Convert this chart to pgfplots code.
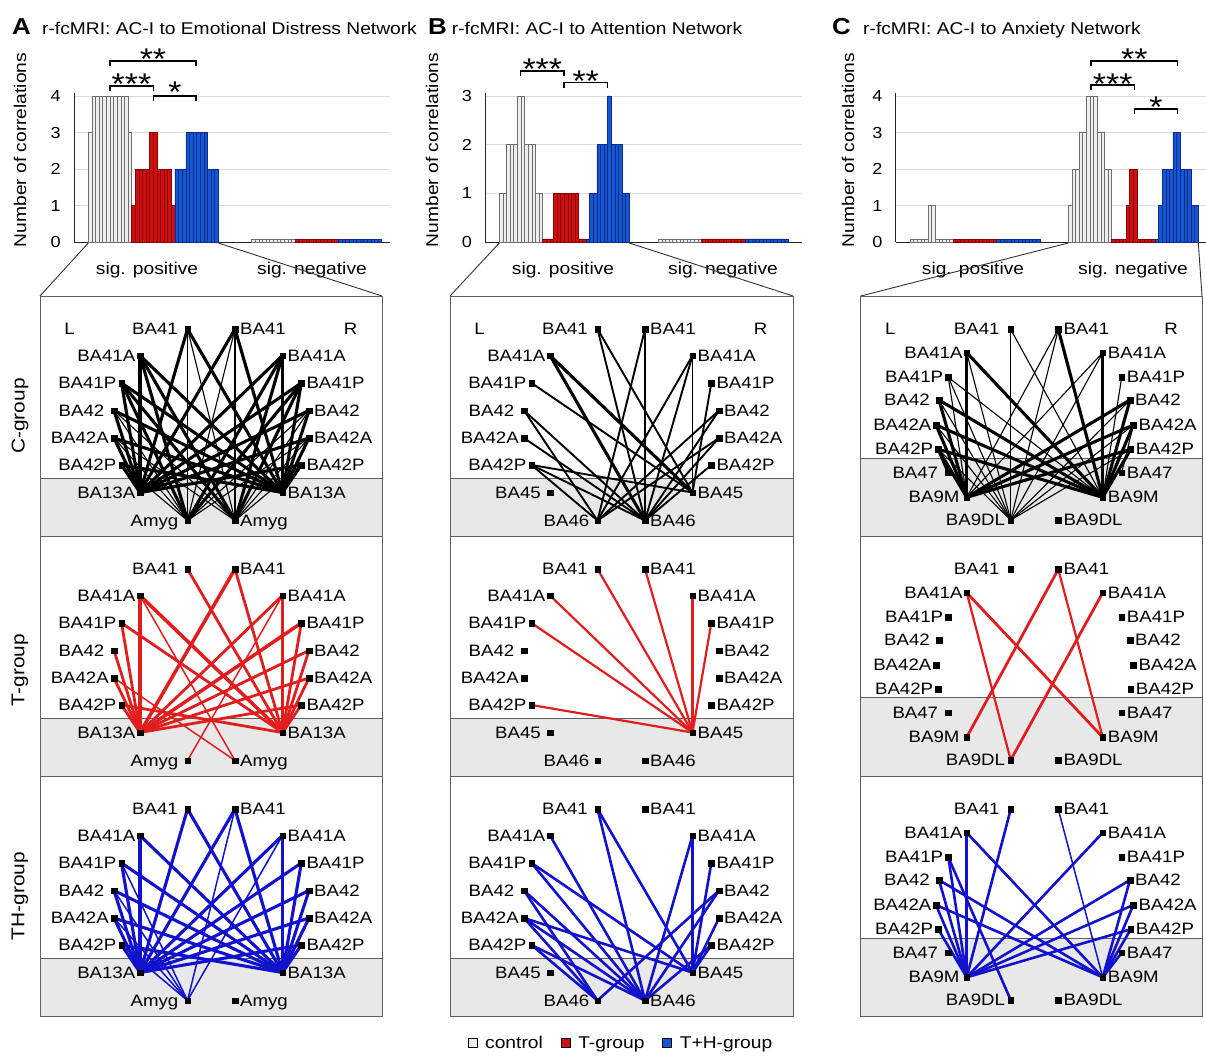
\documentclass[border=0pt]{standalone}
\usepackage{fontspec}
\setmainfont{Liberation Sans}[FakeStretch=1.13]
\usepackage{pgfplots}
\pgfplotsset{compat=1.18}

\definecolor{ctrlfill}{RGB}{238,238,238}
\definecolor{ctrledge}{RGB}{110,110,110}
\definecolor{barred}{RGB}{204,16,16}
\definecolor{barredE}{RGB}{140,0,0}
\definecolor{barblue}{RGB}{22,86,210}
\definecolor{barblueE}{RGB}{10,45,140}
\definecolor{netred}{RGB}{225,30,30}
\definecolor{netblue}{RGB}{18,18,205}
\definecolor{band}{RGB}{232,232,232}
\definecolor{frame}{RGB}{95,95,95}
\definecolor{gridc}{RGB}{220,220,220}

\newcommand\fs[1]{\fontsize{#1pt}{#1pt}\selectfont}
\newcommand\nfont{\fs{16.5}}
\newcommand\zb{0.065}

\tikzset{
 kT/.style={black, line width=3.1pt, line cap=round, mark=none},
 kM/.style={black, line width=1.9pt, line cap=round, mark=none},
 kt/.style={black, line width=1.1pt, line cap=round, mark=none},
 rX/.style={netred, line width=3.5pt, line cap=round, mark=none},
 rT/.style={netred, line width=2.8pt, line cap=round, mark=none},
 rM/.style={netred, line width=2.2pt, line cap=round, mark=none},
 rt/.style={netred, line width=1.5pt, line cap=round, mark=none},
 bT/.style={netblue, line width=3.1pt, line cap=round, mark=none},
 bM/.style={netblue, line width=2.6pt, line cap=round, mark=none},
 bt/.style={netblue, line width=1.5pt, line cap=round, mark=none},
 barC/.style={fill=ctrlfill, draw=ctrledge, line width=0.5pt},
 barR/.style={fill=barred, draw=barredE, line width=0.5pt},
 barB/.style={fill=barblue, draw=barblueE, line width=0.5pt},
 lbl/.style={inner sep=0pt, font=\nfont, yshift=-5.6pt},
}

\pgfplotsset{
 barax/.style={scale only axis, anchor=south west, ymin=0, xtick=\empty,
   ybar, bar width=1, bar shift=0pt,
   axis x line*=bottom, axis y line*=left,
   axis line style={-, draw=black!85, line width=1pt},
   ymajorgrids, grid style={draw=gridc, line width=0.8pt},
   major tick length=0pt,
   yticklabel style={font=\fs{16}, inner sep=0pt, xshift=-13pt},
   /pgf/number format/assume math mode=true, clip=false},
 net/.style={scale only axis, anchor=north west, height=240pt, xmin=0, ymin=0, ymax=240,
   y dir=reverse, xtick=\empty, ytick=\empty,
   axis line style={draw=frame, line width=0.9pt}, clip=false, axis on top},
}

% bar group: style, x offset, data
\newcommand\G[3]{\addplot[#1] table[row sep=\\, x expr=\coordindex+#2, y expr={max(\thisrow{h},\zb)}] {h\\#3};}

% node layouts (x from panel left, y from panel top, px)
\newcommand\defn[3]{\expandafter\def\csname #1\endcsname{#2,#3}}
\defn{abL1}{147.5}{33}    \defn{abR1}{195}{33}
\defn{abL2}{100}{59.5}    \defn{abR2}{242.5}{59.5}
\defn{abL3}{81.5}{87}     \defn{abR3}{261.3}{87}
\defn{abL4}{74}{114.5}    \defn{abR4}{269}{114.5}
\defn{abL5}{74}{142}      \defn{abR5}{269}{142}
\defn{abL6}{81.5}{169}    \defn{abR6}{261.3}{169}
\defn{abL7}{100}{196.5}   \defn{abR7}{242.5}{196.5}
\defn{abL8}{147.5}{224.5} \defn{abR8}{195}{224.5}
\defn{cL1}{150}{33.3}   \defn{cR1}{197.6}{33.3}
\defn{cL2}{106}{56.7}   \defn{cR2}{242}{56.7}
\defn{cL3}{87.6}{81.3}  \defn{cR3}{261}{81.3}
\defn{cL4}{78.3}{104}   \defn{cR4}{269.3}{104}
\defn{cL5}{75.3}{129}   \defn{cR5}{272.6}{129}
\defn{cL6}{77.6}{153.3} \defn{cR6}{270}{153.3}
\defn{cL7}{87.6}{176.7} \defn{cR7}{261}{176.7}
\defn{cL8}{106}{201.3}  \defn{cR8}{242}{201.3}
\defn{cL9}{150}{224}    \defn{cR9}{197.6}{224}

\newcommand\E[3]{\edef\tmp{\noexpand\addplot[#1] coordinates {(\csname\lay #2\endcsname) (\csname\lay #3\endcsname)};}\tmp}
\newcommand\LL[3]{\edef\tmp{\noexpand\node[lbl,anchor=base east,xshift=-#3pt] at (axis cs:\csname\lay #1\endcsname) {#2};}\tmp}
\newcommand\RL[2]{\edef\tmp{\noexpand\node[lbl,anchor=base west,xshift=5pt] at (axis cs:\csname\lay #1\endcsname) {#2};}\tmp}
\newcommand\band[2]{\addplot[fill=band, draw=none] coordinates {(0,#2)(#1,#2)(#1,240)(0,240)};
 \addplot[draw=frame, line width=0.9pt] coordinates {(0,#2)(#1,#2)};}
\newcommand\MarksAB{\addplot[only marks, mark=square*, mark size=2.7pt, black] coordinates {(147.5,33)(195,33)(100,59.5)(242.5,59.5)(81.5,87)(261.3,87)(74,114.5)(269,114.5)(74,142)(269,142)(81.5,169)(261.3,169)(100,196.5)(242.5,196.5)(147.5,224.5)(195,224.5)};}
\newcommand\MarksC{\addplot[only marks, mark=square*, mark size=2.7pt, black] coordinates {(150,33.3)(197.6,33.3)(106,56.7)(242,56.7)(87.6,81.3)(261,81.3)(78.3,104)(269.3,104)(75.3,129)(272.6,129)(77.6,153.3)(270,153.3)(87.6,176.7)(261,176.7)(106,201.3)(242,201.3)(150,224)(197.6,224)};}
\newcommand\LabelsAB[4]{\def\lay{ab}%
 \LL{L1}{BA41}{9.5}\RL{R1}{BA41}\LL{L2}{BA41A}{4.5}\RL{R2}{BA41A}
 \LL{L3}{BA41P}{5}\RL{R3}{BA41P}\LL{L4}{BA42}{9.5}\RL{R4}{BA42}
 \LL{L5}{BA42A}{5}\RL{R5}{BA42A}\LL{L6}{BA42P}{5}\RL{R6}{BA42P}
 \LL{L7}{#1}{#3}\RL{R7}{#1}\LL{L8}{#2}{#4}\RL{R8}{#2}}
\newcommand\LabelsC{\def\lay{c}%
 \LL{L1}{BA41}{11}\RL{R1}{BA41}\LL{L2}{BA41A}{4}\RL{R2}{BA41A}
 \LL{L3}{BA41P}{5}\RL{R3}{BA41P}\LL{L4}{BA42}{9}\RL{R4}{BA42}
 \LL{L5}{BA42A}{4.5}\RL{R5}{BA42A}\LL{L6}{BA42P}{5}\RL{R6}{BA42P}
 \LL{L7}{BA47}{10}\RL{R7}{BA47}\LL{L8}{BA9M}{7}\RL{R8}{BA9M}
 \LL{L9}{BA9DL}{5.5}\RL{R9}{BA9DL}}
\newcommand\LRlab{\node[lbl,anchor=base] at (axis cs:29.5,33) {L};\node[lbl,anchor=base] at (axis cs:310.5,33) {R};}
\newcommand\brk[4]{\draw[line width=1.4pt] (#1pt,-#4pt) -- (#1pt,-#3pt) -- (#2pt,-#3pt) -- (#2pt,-#4pt);}
\newcommand\st[3]{\node[anchor=base, inner sep=0pt, font=\fs{30}] at (#1pt,-#2pt) {#3};}

\begin{document}
\begin{tikzpicture}
\useasboundingbox (0pt,0pt) rectangle (1206pt,-1055pt);

% ---------- titles ----------
\node[anchor=base west, inner sep=0pt, font=\bfseries\fs{23}] at (12pt,-34pt) {A};
\node[anchor=base west, inner sep=0pt, font=\fs{17}] at (42pt,-34pt) {r-fcMRI: AC-I to Emotional Distress Network};
\node[anchor=base west, inner sep=0pt, font=\bfseries\fs{23}] at (428pt,-34pt) {B};
\node[anchor=base west, inner sep=0pt, font=\fs{17}] at (451.7pt,-34pt) {r-fcMRI: AC-I to Attention Network};
\node[anchor=base west, inner sep=0pt, font=\bfseries\fs{23}] at (832pt,-34pt) {C};
\node[anchor=base west, inner sep=0pt, font=\fs{17}] at (863pt,-34pt) {r-fcMRI: AC-I to Anxiety Network};

% ---------- y labels ----------
\node[rotate=90, inner sep=0pt, font=\fs{17}] at (20pt,-150pt) {Number of correlations};
\node[rotate=90, inner sep=0pt, font=\fs{17}] at (432pt,-150pt) {Number of correlations};
\node[rotate=90, inner sep=0pt, font=\fs{17}] at (848pt,-150pt) {Number of correlations};

% ---------- bar chart A ----------
\begin{axis}[barax, at={(74pt,-242pt)}, width=316.1pt, height=148.9pt, xmin=-3.96, xmax=83.6, ymax=4.08, ytick={0,1,2,3,4}]
\G{barC}{0.5}{3\\4\\4\\4\\4\\4\\4\\4\\4\\4\\4\\3\\}
\G{barR}{12.5}{1\\2\\2\\2\\2\\3\\3\\2\\2\\2\\2\\1\\}
\G{barB}{24.5}{2\\2\\2\\3\\3\\3\\3\\3\\3\\2\\2\\2\\}
\G{barC}{45.76}{0\\0\\0\\0\\0\\0\\0\\0\\0\\0\\0\\0\\}
\G{barR}{57.76}{0\\0\\0\\0\\0\\0\\0\\0\\0\\0\\0\\0\\}
\G{barB}{69.76}{0\\0\\0\\0\\0\\0\\0\\0\\0\\0\\0\\0\\}
\end{axis}

% ---------- bar chart B ----------
\begin{axis}[barax, at={(485pt,-242pt)}, width=317pt, height=149pt, xmin=-3.96, xmax=83.85, ymax=3.06, ytick={0,1,2,3}]
\G{barC}{0.5}{1\\1\\2\\2\\2\\3\\3\\2\\2\\2\\1\\1\\}
\G{barR}{12.5}{0\\0\\0\\1\\1\\1\\1\\1\\1\\1\\0\\0\\}
\G{barB}{24.5}{0\\1\\1\\2\\2\\2\\3\\2\\2\\2\\1\\1\\}
\G{barC}{44.5}{0\\0\\0\\0\\0\\0\\0\\0\\0\\0\\0\\0\\}
\G{barR}{56.5}{0\\0\\0\\0\\0\\0\\0\\0\\0\\0\\0\\0\\}
\G{barB}{68.5}{0\\0\\0\\0\\0\\0\\0\\0\\0\\0\\0\\0\\}
\end{axis}

% ---------- bar chart C ----------
\begin{axis}[barax, at={(895.7pt,-242pt)}, width=310.3pt, height=148.9pt, xmin=-3.96, xmax=82.0, ymax=4.08, ytick={0,1,2,3,4}]
\G{barC}{0.5}{0\\0\\0\\0\\0\\1\\1\\0\\0\\0\\0\\0\\}
\G{barR}{12.5}{0\\0\\0\\0\\0\\0\\0\\0\\0\\0\\0\\0\\}
\G{barB}{24.5}{0\\0\\0\\0\\0\\0\\0\\0\\0\\0\\0\\0\\}
\G{barC}{44.35}{1\\2\\2\\3\\3\\4\\4\\4\\3\\3\\2\\2\\}
\G{barR}{56.35}{0\\0\\0\\0\\1\\2\\2\\0\\0\\0\\0\\0\\}
\G{barB}{68.35}{0\\1\\2\\2\\2\\3\\3\\2\\2\\2\\1\\1\\}
\end{axis}

% ---------- category labels ----------
\foreach \x/\t in {147/sig. positive, 312/sig. negative, 563/sig. positive, 723/sig. negative, 973/sig. positive, 1133/sig. negative}
  \node[anchor=base, inner sep=0pt, font=\fs{17}] at (\x pt,-274pt) {\t};

% ---------- significance brackets ----------
\brk{110}{196}{61}{66} \brk{110}{153.5}{86}{91} \brk{153.5}{196}{96}{101}
\st{153}{69.5}{**} \st{131.5}{94.5}{***} \st{175}{102.5}{*}
\brk{520.7}{564}{71}{76} \brk{564}{607.3}{82.3}{88}
\st{542.3}{79.2}{***} \st{585.7}{91.5}{**}
\brk{1091}{1177.7}{61}{66} \brk{1091}{1134.3}{85}{90} \brk{1134.3}{1177.7}{109}{114}
\st{1134.3}{69.5}{**} \st{1112.7}{94.2}{***} \st{1156}{117.5}{*}

% ---------- funnel lines ----------
\draw[line width=0.9pt, black!80] (88.3pt,-243pt) -- (40pt,-296pt);
\draw[line width=0.9pt, black!80] (218.3pt,-243pt) -- (382pt,-296pt);
\draw[line width=0.9pt, black!80] (499.3pt,-243pt) -- (450pt,-296pt);
\draw[line width=0.9pt, black!80] (629.3pt,-243pt) -- (793pt,-296pt);
\draw[line width=0.9pt, black!80] (1068.3pt,-243pt) -- (860.7pt,-296pt);
\draw[line width=0.9pt, black!80] (1198.3pt,-243pt) -- (1202pt,-296pt);

% ---------- group labels ----------
\node[rotate=90, inner sep=0pt, font=\fs{18.5}] at (20pt,-416pt) {C-group};
\node[rotate=90, inner sep=0pt, font=\fs{18.5}] at (20pt,-670pt) {T-group};
\node[rotate=90, inner sep=0pt, font=\fs{18.5}] at (20pt,-896pt) {TH-group};

% ================= column A =================
\begin{axis}[net, at={(40pt,-296pt)}, width=342pt, xmax=342]
\band{342}{182}
\def\lay{ab}
\E{kT}{L1}{L7}\E{kT}{L1}{R7}\E{kT}{R1}{L7}\E{kT}{R1}{R7}
\E{kT}{L2}{L7}\E{kT}{L2}{R7}\E{kT}{R2}{L7}\E{kT}{R2}{R7}
\E{kT}{L3}{L7}\E{kT}{L3}{R7}\E{kT}{R3}{L7}\E{kT}{R3}{R7}
\E{kT}{L4}{L7}\E{kT}{L4}{R7}\E{kT}{R4}{L7}\E{kT}{R4}{R7}
\E{kT}{L5}{L7}\E{kT}{L5}{R7}\E{kT}{R5}{L7}\E{kT}{R5}{R7}
\E{kT}{L6}{L7}\E{kT}{L6}{R7}\E{kT}{R6}{L7}\E{kT}{R6}{R7}
\E{kt}{L1}{L8}\E{kt}{L1}{R8}\E{kt}{R1}{L8}\E{kt}{R1}{R8}
\E{kT}{L2}{L8}\E{kT}{L2}{R8}\E{kT}{R2}{L8}\E{kT}{R2}{R8}
\E{kT}{L3}{L8}\E{kT}{L3}{R8}\E{kT}{R3}{L8}\E{kT}{R3}{R8}
\E{kt}{L4}{L8}\E{kt}{L4}{R8}\E{kt}{R4}{L8}\E{kt}{R4}{R8}
\E{kt}{L5}{L8}\E{kt}{L5}{R8}\E{kt}{R5}{L8}\E{kt}{R5}{R8}
\E{kt}{L6}{L8}\E{kt}{R6}{R8}
\MarksAB
\LabelsAB{BA13A}{Amyg}{4.5}{9}
\LRlab
\end{axis}

\begin{axis}[net, at={(40pt,-536pt)}, width=342pt, xmax=342]
\band{342}{182}
\def\lay{ab}
\E{rT}{L1}{R7}\E{rX}{R1}{L7}\E{rT}{R1}{R7}\E{rX}{L2}{L7}\E{rX}{L2}{R7}\E{rt}{L2}{R8}
\E{rT}{L3}{L7}\E{rT}{L3}{R7}\E{rT}{L4}{L7}\E{rT}{L5}{L7}\E{rt}{L5}{R8}\E{rT}{L6}{L7}
\E{rT}{L6}{R7}\E{rT}{R2}{L7}\E{rT}{R2}{R7}\E{rt}{R2}{L8}\E{rX}{R3}{L7}\E{rT}{R3}{R7}
\E{rT}{R4}{L7}\E{rT}{R4}{R7}\E{rT}{R5}{L7}\E{rT}{R5}{R7}\E{rT}{R6}{L7}\E{rT}{R6}{R7}
\MarksAB
\LabelsAB{BA13A}{Amyg}{4.5}{9}
\end{axis}

\begin{axis}[net, at={(40pt,-776pt)}, width=342pt, xmax=342]
\band{342}{182}
\def\lay{ab}
\E{bT}{L1}{L7}\E{bT}{L1}{R7}\E{bT}{R1}{L7}\E{bT}{R1}{R7}\E{bt}{R1}{L8}
\E{bT}{L2}{L7}\E{bT}{L2}{R7}\E{bT}{L3}{L7}\E{bT}{L3}{R7}\E{bt}{L3}{L8}
\E{bT}{L4}{L7}\E{bT}{L4}{R7}\E{bt}{L4}{L8}\E{bT}{L5}{L7}\E{bT}{L5}{R7}\E{bt}{L5}{L8}
\E{bT}{L6}{L7}\E{bT}{L6}{R7}\E{bt}{L6}{L8}\E{bT}{R2}{L7}\E{bT}{R2}{R7}\E{bt}{R2}{L8}
\E{bT}{R3}{L7}\E{bT}{R3}{R7}\E{bT}{R4}{L7}\E{bT}{R4}{R7}\E{bT}{R5}{L7}\E{bT}{R5}{R7}
\E{bT}{R6}{L7}\E{bT}{R6}{R7}
\MarksAB
\LabelsAB{BA13A}{Amyg}{4.5}{9}
\end{axis}

% ================= column B =================
\begin{axis}[net, at={(450pt,-296pt)}, width=343pt, xmax=343]
\band{343}{182}
\def\lay{ab}
\E{kM}{L1}{R7}\E{kM}{L1}{R8}\E{kM}{R1}{R8}\E{kM}{R1}{L8}\E{kT}{L2}{R8}\E{kT}{L2}{R7}
\E{kM}{L3}{R7}\E{kM}{L4}{L8}\E{kM}{L4}{R8}\E{kM}{L5}{R8}\E{kM}{L6}{L8}\E{kM}{L6}{R8}
\E{kM}{L6}{R7}\E{kM}{R2}{L8}\E{kM}{R2}{R8}\E{kM}{R2}{R7}\E{kM}{R4}{L8}\E{kM}{R4}{R8}
\E{kM}{R5}{R8}\E{kM}{R5}{L8}\E{kM}{R3}{R7}\E{kM}{R6}{R8}
\MarksAB
\LabelsAB{BA45}{BA46}{9}{8}
\LRlab
\end{axis}

\begin{axis}[net, at={(450pt,-536pt)}, width=343pt, xmax=343]
\band{343}{182}
\def\lay{ab}
\E{rM}{L1}{R7}\E{rM}{R1}{R7}\E{rM}{L2}{R7}\E{rM}{R2}{R7}\E{rM}{L3}{R7}\E{rM}{R3}{R7}\E{rM}{L6}{R7}
\MarksAB
\LabelsAB{BA45}{BA46}{9}{8}
\end{axis}

\begin{axis}[net, at={(450pt,-776pt)}, width=343pt, xmax=343]
\band{343}{182}
\def\lay{ab}
\E{bM}{L1}{R8}\E{bM}{L1}{R7}\E{bM}{L2}{R8}\E{bM}{L3}{R8}\E{bM}{L3}{R7}\E{bM}{L4}{L8}
\E{bM}{L4}{R8}\E{bM}{L5}{L8}\E{bM}{L5}{R8}\E{bM}{L5}{R7}\E{bM}{L6}{L8}\E{bM}{L6}{R8}
\E{bM}{R2}{R8}\E{bM}{R2}{R7}\E{bM}{R3}{R7}\E{bM}{R4}{L8}\E{bM}{R4}{R8}\E{bM}{R5}{R7}
\E{bM}{R6}{R7}\E{bM}{R6}{R8}
\MarksAB
\LabelsAB{BA45}{BA46}{9}{8}
\end{axis}

% ================= column C =================
\begin{axis}[net, at={(860.7pt,-296pt)}, width=341.3pt, xmax=341.3]
\band{341.3}{162}
\def\lay{c}
\E{kT}{L2}{L8}\E{kt}{L3}{L8}\E{kT}{L4}{L8}\E{kT}{L5}{L8}\E{kT}{L6}{L8}
\E{kt}{R1}{L8}\E{kt}{R2}{L8}\E{kT}{R4}{L8}\E{kT}{R5}{L8}\E{kT}{R6}{L8}
\E{kt}{L1}{R8}\E{kT}{L2}{R8}\E{kt}{L3}{R8}\E{kT}{L4}{R8}\E{kT}{L5}{R8}\E{kT}{L6}{R8}
\E{kT}{R1}{R8}\E{kT}{R2}{R8}\E{kt}{R3}{R8}\E{kT}{R4}{R8}\E{kT}{R5}{R8}\E{kT}{R6}{R8}
\E{kt}{L1}{L9}\E{kt}{L2}{L9}\E{kt}{L3}{L9}\E{kt}{L4}{L9}\E{kt}{L5}{L9}\E{kt}{L6}{L9}
\E{kt}{R1}{L9}\E{kt}{R2}{L9}\E{kt}{R4}{L9}\E{kt}{R5}{L9}\E{kt}{R6}{L9}
\E{kT}{L6}{L7}\E{kt}{R5}{R7}
\MarksC
\LabelsC
\LRlab
\end{axis}

\begin{axis}[net, at={(860.7pt,-536pt)}, width=341.3pt, xmax=341.3]
\band{341.3}{161}
\def\lay{c}
\E{rT}{L2}{R8}\E{rM}{L2}{L9}\E{rT}{R1}{L8}\E{rM}{R1}{R8}\E{rT}{R2}{L9}
\MarksC
\LabelsC
\end{axis}

\begin{axis}[net, at={(860.7pt,-776pt)}, width=341.3pt, xmax=341.3]
\band{341.3}{162}
\def\lay{c}
\E{bM}{L1}{L8}\E{bM}{L2}{L8}\E{bM}{L3}{L8}\E{bM}{L4}{L8}\E{bM}{L5}{L8}\E{bM}{L6}{L8}
\E{bM}{R2}{L8}\E{bM}{R4}{L8}\E{bM}{R5}{L8}\E{bM}{R6}{L8}
\E{bt}{R1}{R8}\E{bM}{L2}{R8}\E{bM}{L4}{R8}\E{bM}{L5}{R8}\E{bM}{R4}{R8}\E{bM}{R5}{R8}
\E{bM}{R6}{R8}\E{bM}{R7}{R8}\E{bM}{L3}{L9}
\MarksC
\LabelsC
\end{axis}

% ---------- legend ----------
\begin{axis}[hide axis, scale only axis, width=2pt, height=2pt, xmin=0, xmax=1, ymin=0, ymax=1,
  at={(621pt,-1043pt)}, anchor=center, legend columns=3,
  legend style={at={(0.5,0.5)}, anchor=center, draw=none, fill=none, font=\fs{17}, inner sep=0pt,
    /tikz/every even column/.append style={column sep=16pt}},
  legend image code/.code={\draw[#1] (0pt,-4.5pt) rectangle (9pt,4.5pt); \path[draw=none, fill=none] (0pt,0pt) -- (15pt,0pt);}]
\addlegendimage{draw=black, line width=0.8pt, fill=ctrlfill}
\addlegendentry{control}
\addlegendimage{draw=black, line width=0.8pt, fill=barred}
\addlegendentry{T-group}
\addlegendimage{draw=black, line width=0.8pt, fill=barblue}
\addlegendentry{T+H-group}
\end{axis}

\end{tikzpicture}
\end{document}
